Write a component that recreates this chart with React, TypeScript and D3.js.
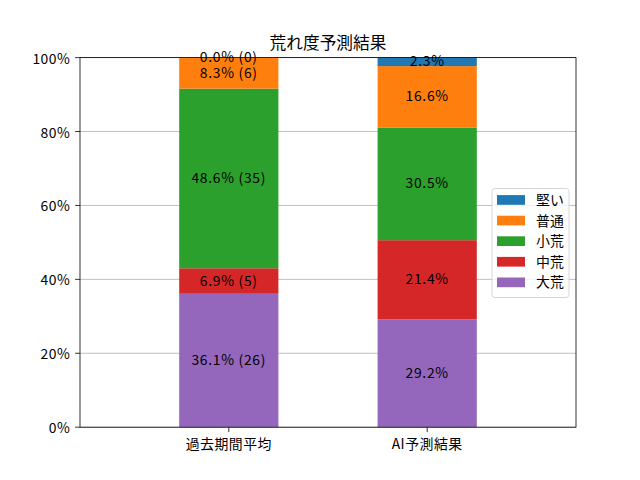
import * as d3 from "d3"

const categories = ["過去期間平均", "AI予測結果"]
const levels = ["大荒", "中荒", "小荒", "普通", "堅い"]
const colors = ["#9467bd", "#d62728", "#2ca02c", "#ff7f0e", "#1f77b4"]
// percent per level (bottom to top), per category
const pastPct = [36.1, 6.9, 48.6, 8.3, 0.0]
const pastCount = [26, 5, 35, 6, 0]
const aiPct = [29.2, 21.4, 30.5, 16.6, 2.3]
const yTicks = [0, 20, 40, 60, 80, 100]

const font = "'Noto Sans CJK JP', 'DejaVu Sans', sans-serif"

export default function App() {
  const width = 640
  const height = 480
  const margin = { top: 57.6, right: 64, bottom: 52.8, left: 80 }
  const innerW = width - margin.left - margin.right
  const innerH = height - margin.top - margin.bottom

  const x = d3.scaleLinear().domain([-0.75, 1.75]).range([0, innerW])
  const y = d3.scaleLinear().domain([0, 100]).range([innerH, 0])
  const barW = x(0.5) - x(0)

  const rows = [
    levels.map((_, i) => ({ v: pastPct[i], label: `${pastPct[i].toFixed(1)}% (${pastCount[i]})` })),
    levels.map((_, i) => ({ v: aiPct[i], label: `${aiPct[i].toFixed(1)}%` })),
  ]

  const legendOrder = [4, 3, 2, 1, 0]

  return (
    <div style={{ position: "fixed", left: 0, top: 0 }}>
      <svg width={width} height={height} style={{ display: "block", background: "#fff" }} fontFamily={font}>
        <text x={margin.left + innerW / 2} y={49} textAnchor="middle" fontSize={16.7} fill="#000">
          荒れ度予測結果
        </text>
        <g transform={`translate(${margin.left},${margin.top})`}>
          {yTicks.map((t) => (
            <line key={`g${t}`} x1={0} x2={innerW} y1={y(t)} y2={y(t)} stroke="#b0b0b0" strokeWidth={0.8} />
          ))}
          {rows.map((segs, ci) => {
            const stack = d3.cumsum(segs.map((s) => s.v))
            return (
              <g key={ci}>
                {segs.map((s, li) => {
                  const y0 = stack[li] - s.v
                  const y1 = stack[li]
                  return (
                    <rect
                      key={li}
                      x={x(ci) - barW / 2}
                      width={barW}
                      y={y(y1)}
                      height={y(y0) - y(y1)}
                      fill={colors[li]}
                    />
                  )
                })}
                {segs.map((s, li) => {
                  const mid = stack[li] - s.v / 2
                  return (
                    <text
                      key={`t${li}`}
                      x={x(ci)}
                      y={y(mid) - 1.5}
                      textAnchor="middle"
                      dominantBaseline="central"
                      fontSize={13.9}
                      letterSpacing={0.7}
                      fill="#000"
                    >
                      {s.label}
                    </text>
                  )
                })}
              </g>
            )
          })}
          <rect x={0} y={0} width={innerW} height={innerH} fill="none" stroke="#000" strokeWidth={0.8} />
          {yTicks.map((t) => (
            <g key={`y${t}`} transform={`translate(0,${y(t)})`}>
              <line x1={-4.9} x2={0} stroke="#000" strokeWidth={0.8} />
              <text x={-9.7} textAnchor="end" dominantBaseline="central" fontSize={13.9} letterSpacing={0.5} fill="#000">
                {`${t}%`}
              </text>
            </g>
          ))}
          {categories.map((c, i) => (
            <g key={c} transform={`translate(${x(i)},${innerH})`}>
              <line y1={0} y2={4.9} stroke="#000" strokeWidth={0.8} />
              <text y={16} textAnchor="middle" dominantBaseline="central" fontSize={13.9} letterSpacing={0.5} fill="#000">
                {c}
              </text>
            </g>
          ))}
        </g>
        <g transform="translate(492,188.5)">
          <rect width={77} height={109} rx={3} fill="#fff" fillOpacity={0.8} stroke="#cccccc" strokeWidth={0.8} />
          {legendOrder.map((li, k) => (
            <g key={li} transform={`translate(0,${11.5 + k * 20.6})`}>
              <rect x={5} y={-4.9} width={28} height={9.7} fill={colors[li]} />
              <text x={44} y={-1} dominantBaseline="central" fontSize={13.9} fill="#000">
                {levels[li]}
              </text>
            </g>
          ))}
        </g>
      </svg>
    </div>
  )
}
